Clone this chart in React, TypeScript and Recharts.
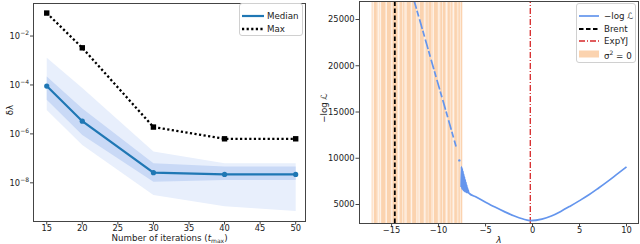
import React from 'react'
import { ComposedChart, Line, Area, XAxis, YAxis, ReferenceLine, ReferenceArea, ReferenceDot } from 'recharts'

// left panel: error vs number of iterations
const iterations = [15, 20, 30, 40, 50]
const medianDelta = [9e-5, 3.3e-6, 2.6e-8, 2.2e-8, 2.2e-8]
const maxDelta = [8.7e-2, 3.3e-3, 1.9e-6, 6.3e-7, 6.3e-7]
const innerLow = [2.5e-5, 9e-7, 1.1e-8, 1.3e-8, 1.3e-8]
const innerHigh = [2.2e-4, 1.1e-5, 6.3e-8, 4.7e-8, 4.7e-8]
const outerLow = [9.5e-6, 3.5e-7, 3.2e-9, 1.1e-9, 7e-10]
const outerHigh = [1.3e-3, 7.6e-5, 1.9e-7, 6.3e-8, 6.3e-8]
const iterTicks = [15, 20, 25, 30, 35, 40, 45, 50]
const deltaTicks = [1e-2, 1e-4, 1e-6, 1e-8]

// right panel: negative log-likelihood vs lambda
const lambdaNoisy = [-7.6, -7.56, -7.52, -7.48, -7.44, -7.4, -7.36, -7.32, -7.28, -7.24, -7.2, -7.16, -7.12, -7.08, -7.04, -7.0, -6.96, -6.92, -6.88, -6.84]
const nllNoisy = [6900, 9100, 6700, 8900, 6600, 8600, 6500, 8300, 6450, 8000, 6400, 7700, 6350, 7400, 6320, 7100, 6300, 6800, 6280, 6550]
const lambdaSmooth = [-6.8, -6, -5, -4, -3, -2, -1, -0.2, 1, 2, 3, 4, 5, 6, 7, 8, 9, 10]
const nllSmooth = [6260, 5800, 5250, 4720, 4230, 3780, 3430, 3260, 3420, 3750, 4250, 4820, 5420, 6050, 6760, 7500, 8280, 9060]
const lambdaSteep = [-12.65, -11.5, -10.5, -9.5, -8.6, -8.14]
const nllSteep = [27200, 23150, 19600, 16100, 12900, 11280]
const strayPoint = { lambda: -7.79, nll: 9770 }
const brentLambda = -14.66
const expyjLambda = -0.24
const zeroVarSpan = [-17.15, -7.47]
const zeroVarDense = [
  [-16.9, -16.6], [-16.1, -15.7], [-15.5, -15.1], [-14.9, -14.4], [-14.1, -13.7],
  [-13.4, -13.0], [-12.8, -12.3], [-12.0, -11.6], [-11.3, -10.8], [-10.5, -10.1],
  [-9.8, -9.3], [-9.0, -8.6], [-8.3, -7.9], [-7.8, -7.5],
]
const zeroVarGaps = [
  -16.95, -16.45, -16.2, -15.6, -15.0, -14.3, -13.85, -13.5, -12.9, -12.4, -12.1,
  -11.5, -11.15, -10.6, -10.0, -9.6, -9.2, -8.8, -8.45, -8.05, -7.7,
]
const lambdaTicks = [-15, -10, -5, 0, 5, 10]
const nllTicks = [5000, 10000, 15000, 20000, 25000]

const FONT = 'DejaVu Sans'
const tickStyle = { fontSize: 8.3, fill: '#222', fontFamily: FONT }
const minus = (v: number) => (v < 0 ? `\u2212${-v}` : `${v}`)

const leftRows = iterations.map((t, i) => ({
  t,
  median: medianDelta[i],
  max: maxDelta[i],
  inner: [innerLow[i], innerHigh[i]],
  outer: [outerLow[i], outerHigh[i]],
}))

const nllLine = [
  ...lambdaNoisy.map((x, i) => ({ x, y: nllNoisy[i] })),
  ...lambdaSmooth.map((x, i) => ({ x, y: nllSmooth[i] })),
]
const steepLine = lambdaSteep.map((x, i) => ({ x, y: nllSteep[i] }))

function LogTick(props: any) {
  const { x, y, payload } = props
  const exp = Math.round(Math.log10(payload.value))
  return (
    <text x={x} y={y} dy={3} textAnchor="end" fontSize={8.3} fill="#222" fontFamily={FONT}>
      10<tspan dy={-4} fontSize={6}>{minus(exp)}</tspan>
    </text>
  )
}

function SquareDot(props: any) {
  const { cx, cy, index } = props
  return <rect key={`sq-${index}`} x={cx - 2.7} y={cy - 2.7} width={5.4} height={5.4} fill="#000" />
}

const frame = (left: number, top: number, w: number, h: number): React.CSSProperties => ({
  position: 'absolute', left, top, width: w, height: h, border: '1px solid #444',
  boxSizing: 'border-box', pointerEvents: 'none',
})

const rotated = (cx: number, cy: number): React.CSSProperties => ({
  position: 'absolute', left: cx - 40, top: cy - 6, width: 80, height: 12, lineHeight: '12px',
  textAlign: 'center', transform: 'rotate(-90deg)', fontSize: 8.7, color: '#222',
})

const legendBox = (left: number, top: number, w: number, h: number): React.CSSProperties => ({
  position: 'absolute', left, top, width: w, height: h, border: '1px solid #d0d0d0',
  borderRadius: 3, background: 'rgba(255,255,255,0.85)', boxSizing: 'border-box',
})

function LegendRow({ top, sample, label }: { top: number; sample: React.ReactNode; label: React.ReactNode }) {
  return (
    <div style={{ position: 'absolute', left: 0, top: top - 6, height: 12, width: '100%' }}>
      <svg width={24} height={12} style={{ position: 'absolute', left: 1, top: 0 }}>{sample}</svg>
      <span style={{ position: 'absolute', left: 27, top: 0, lineHeight: '12px', fontSize: 8.7, color: '#222', whiteSpace: 'nowrap' }}>{label}</span>
    </div>
  )
}

export default function App() {
  return (
    <div style={{ position: 'absolute', left: 0, top: 0, width: 640, height: 244, background: '#fff', fontFamily: FONT }}>
      <div style={{ position: 'absolute', left: 0, top: 0 }}>
        <ComposedChart width={320} height={244} data={leftRows} margin={{ top: 3, right: 14, left: 0, bottom: 0 }}>
          <XAxis dataKey="t" type="number" domain={[13.07, 51.45]} ticks={iterTicks} allowDataOverflow
            height={23} tick={tickStyle} tickSize={3.5} tickMargin={1} axisLine={false} tickLine={{ stroke: '#444' }} />
          <YAxis type="number" scale="log" domain={[2.75e-10, 0.224]} ticks={deltaTicks} allowDataOverflow
            width={33} tick={<LogTick />} tickSize={3} tickMargin={1} axisLine={false} tickLine={{ stroke: '#444' }} />
          <Area dataKey="outer" type="linear" stroke="none" fill="#e8effc" fillOpacity={1} isAnimationActive={false} />
          <Area dataKey="inner" type="linear" stroke="none" fill="#c9d9f6" fillOpacity={1} isAnimationActive={false} />
          <Line dataKey="median" type="linear" stroke="#1f77b4" strokeWidth={2.2}
            dot={{ r: 2.6, fill: '#1f77b4', stroke: 'none' }} isAnimationActive={false} />
          <Line dataKey="max" type="linear" stroke="#000" strokeWidth={2.3} strokeDasharray="2.2 2.4"
            dot={<SquareDot />} isAnimationActive={false} />
        </ComposedChart>
      </div>
      <div style={frame(33, 3, 273, 219)} />
      <div style={rotated(10, 110)}>δλ</div>
      <div style={{ position: 'absolute', left: 33, top: 232, width: 273, textAlign: 'center', fontSize: 8.7, lineHeight: '12px', color: '#222' }}>
        Number of iterations (<i>t</i><span style={{ fontSize: 6, verticalAlign: -2 }}>max</span>)
      </div>
      <div style={legendBox(239, 3, 64, 33)}>
        <LegendRow top={12} label="Median" sample={<line x1={1} x2={23} y1={6} y2={6} stroke="#1f77b4" strokeWidth={2.2} />} />
        <LegendRow top={24.5} label="Max" sample={<line x1={1} x2={23} y1={6} y2={6} stroke="#000" strokeWidth={2.3} strokeDasharray="2.2 2.4" />} />
      </div>

      <div style={{ position: 'absolute', left: 320, top: 0 }}>
        <ComposedChart width={320} height={244} margin={{ top: 1, right: 1, left: 0, bottom: 0 }}>
          <XAxis dataKey="x" type="number" domain={[-18.47, 11.33]} ticks={lambdaTicks} allowDataOverflow
            height={21} tick={tickStyle} tickFormatter={minus} tickSize={3.5} tickMargin={1} axisLine={false} tickLine={{ stroke: '#444' }} />
          <YAxis dataKey="y" type="number" domain={[3000, 27000]} ticks={nllTicks} allowDataOverflow
            width={39} tick={tickStyle} tickSize={3.5} tickMargin={1} axisLine={false} tickLine={{ stroke: '#444' }} />
          <ReferenceArea x1={zeroVarSpan[0]} x2={zeroVarSpan[1]} y1={3000} y2={27000} fill="#fde4ce" fillOpacity={1} stroke="none" />
          {zeroVarDense.map(([a, b], i) => (
            <ReferenceArea key={`d${i}`} x1={a} x2={b} y1={3000} y2={27000} fill="#fbd3af" fillOpacity={1} stroke="none" />
          ))}
          {zeroVarGaps.map((g, i) => (
            <ReferenceArea key={`g${i}`} x1={g} x2={g + 0.07} y1={3000} y2={27000} fill="#fff" fillOpacity={0.8} stroke="none" />
          ))}
          <ReferenceLine x={brentLambda} stroke="#000" strokeWidth={1.8} strokeDasharray="4.5 2.5" />
          <ReferenceLine x={expyjLambda} stroke="#d62728" strokeWidth={1.3} strokeDasharray="6 2 1 2" />
          <Line data={steepLine} dataKey="y" type="linear" stroke="#6495ed" strokeWidth={1.7} strokeDasharray="10 2 6 3"
            dot={false} isAnimationActive={false} />
          <Line data={nllLine} dataKey="y" type="monotone" stroke="#6495ed" strokeWidth={1.7}
            dot={false} isAnimationActive={false} />
          <ReferenceDot x={strayPoint.lambda} y={strayPoint.nll} r={1.2} fill="#6495ed" stroke="none" />
        </ComposedChart>
      </div>
      <div style={frame(359, 1, 280, 223)} />
      <div style={rotated(324, 108)}>−log ℒ</div>
      <div style={{ position: 'absolute', left: 359, top: 234, width: 280, textAlign: 'center', fontSize: 9, lineHeight: '12px', color: '#222', fontStyle: 'italic' }}>λ</div>
      <div style={legendBox(576, 3, 60, 60)}>
        <LegendRow top={12} label="−log ℒ" sample={<line x1={1} x2={21} y1={6} y2={6} stroke="#6495ed" strokeWidth={1.7} />} />
        <LegendRow top={24.5} label="Brent" sample={<line x1={1} x2={21} y1={6} y2={6} stroke="#000" strokeWidth={1.8} strokeDasharray="4.5 2.5" />} />
        <LegendRow top={37} label="ExpYJ" sample={<line x1={1} x2={21} y1={6} y2={6} stroke="#d62728" strokeWidth={1.3} strokeDasharray="6 2 1 2" />} />
        <LegendRow top={49.5} label={<span>σ<sup style={{ fontSize: 6 }}>2</sup> = 0</span>} sample={<rect x={1} y={2.5} width={20} height={7} fill="#fbd3af" />} />
      </div>
    </div>
  )
}
